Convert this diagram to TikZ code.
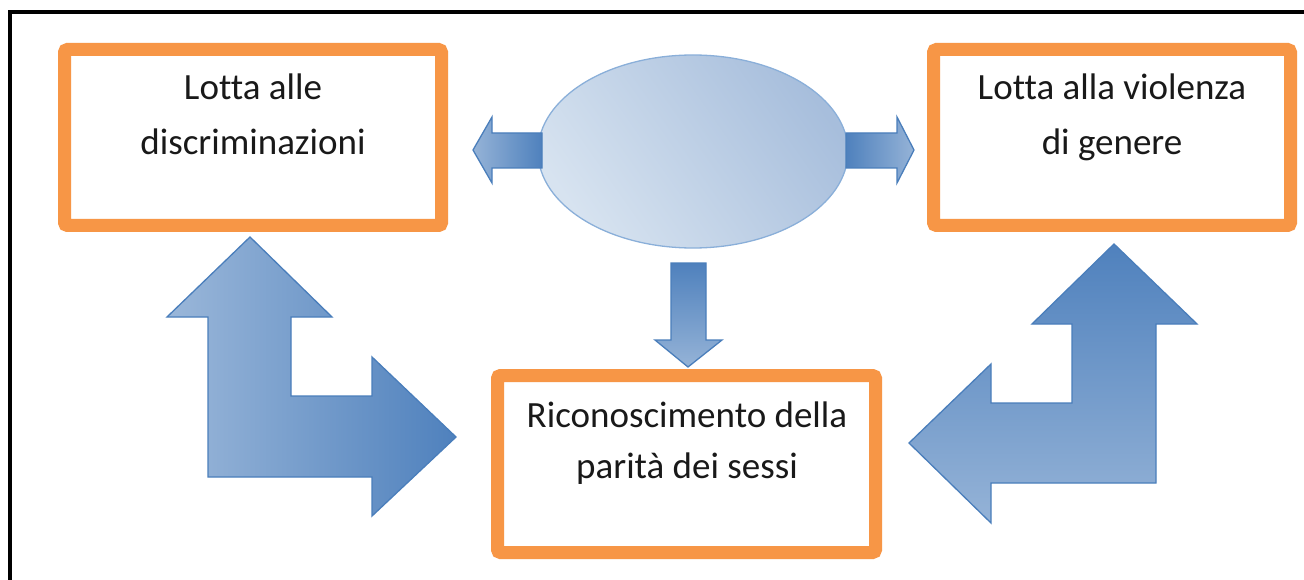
\documentclass[tikz,border=0pt]{standalone}
\usepackage{fontspec}
\setmainfont{Carlito}[Ligatures={NoCommon}]
\usetikzlibrary{shapes.geometric}
\definecolor{orng}{HTML}{F79646}
\definecolor{bdark}{HTML}{4F81BD}
\definecolor{blight}{HTML}{95B3D7}
\definecolor{bline}{HTML}{4A7EBB}
\definecolor{elight}{HTML}{D7E3F0}
\definecolor{edark}{HTML}{A7BEDC}
\definecolor{eline}{HTML}{8AAFD9}
\begin{document}
\begin{tikzpicture}[x=1pt,y=-1pt,
  box/.style={draw=orng,line width=13pt,rounded corners=3pt,fill=white,inner sep=0pt},
  lbl/.style={font=\fontsize{37}{55}\selectfont,text=black!90,align=center,anchor=base,inner sep=0pt},
  barrow/.style={draw=bline,line width=1.3pt,line join=miter}]
\useasboundingbox (0,0) rectangle (1304,580);
\fill[white] (0,0) rectangle (1304,580);
% outer frame
\draw[line width=4pt,black] (9.5,582) -- (9.5,12) -- (1306,12);
% boxes
\draw[box] (64.5,49.5) rectangle (441.5,225.5);
\draw[box] (933.5,49.5) rectangle (1290.5,225.5);
\draw[box] (497.5,375.5) rectangle (875.5,552.5);
\node[lbl] (tl1) at (253,100) {Lotta alle};
\node[lbl] (tl2) at (253,155) {discriminazioni};
\node[lbl] (tr1) at (1112,100) {Lotta alla violenza};
\node[lbl] (tr2) at (1112,155) {di genere};
\node[lbl] (tc1) at (687,427) {Riconoscimento della};
\node[lbl] (tc2) at (687,478) {parità dei sessi};
% ellipse
\node[ellipse,draw=eline,line width=1.3pt,minimum width=310pt,minimum height=193pt,
  left color=elight,right color=edark,shading angle=125] (ell) at (693,151.5) {};
% left arrow from ellipse
\path[barrow,left color=blight,right color=bdark]
  (542,133) -- (492,133) -- (492,117) -- (473,150) -- (492,183) -- (492,168) -- (542,168) -- cycle;
% right arrow from ellipse
\path[barrow,left color=bdark,right color=blight]
  (846,133) -- (897,133) -- (897,117) -- (914,150) -- (897,183) -- (897,168) -- (846,168) -- cycle;
% down arrow
\path[barrow,top color=bdark,bottom color=blight]
  (671,263) -- (706,263) -- (706,340) -- (722,340) -- (688,367) -- (655,340) -- (671,340) -- cycle;
% left bent arrow
\path[barrow,left color=blight!95!white,right color=bdark]
  (250,237) -- (332,317) -- (291,317) -- (291,396) -- (372,396) -- (372,357) -- (456,437)
  -- (372,516) -- (372,477) -- (208,477) -- (208,317) -- (167,317) -- cycle;
% right bent arrow
\path[barrow,top color=bdark,bottom color=blight]
  (1114,244) -- (1197,324) -- (1156,324) -- (1156,483) -- (991,483) -- (991,523) -- (909,443)
  -- (991,364) -- (991,403) -- (1072,403) -- (1072,324) -- (1032,324) -- cycle;
\end{tikzpicture}
\end{document}
